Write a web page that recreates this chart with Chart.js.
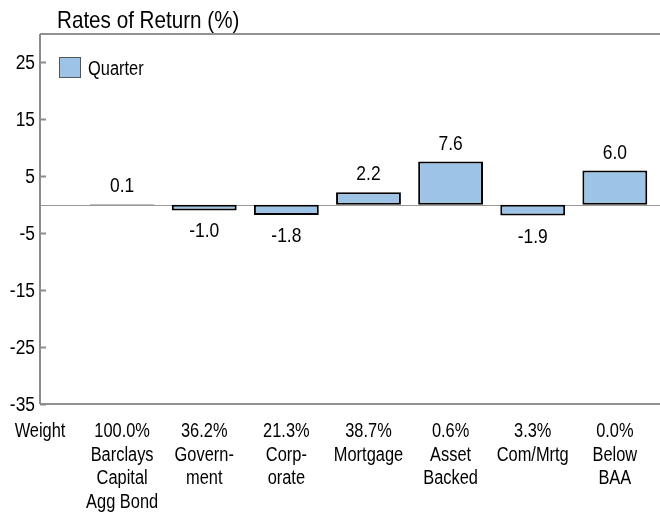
<!DOCTYPE html>
<html lang="en">
<head>
<meta charset="UTF-8">
<title>Rates of Return (%)</title>
<style>
    body { margin: 0; background: #fff; }
    #wrap { width: 660px; height: 512px; }
</style>
</head>
<body>
<div id="wrap">
    <canvas id="returnChart" width="660" height="512"></canvas>
</div>
<script src="https://cdn.jsdelivr.net/npm/chart.js"></script>
<script>
    // data
    const categories = [
        ['Barclays', 'Capital', 'Agg Bond'],
        ['Govern-', 'ment'],
        ['Corp-', 'orate'],
        ['Mortgage'],
        ['Asset', 'Backed'],
        ['Com/Mrtg'],
        ['Below', 'BAA']
    ];
    const weights = ['100.0%', '36.2%', '21.3%', '38.7%', '0.6%', '3.3%', '0.0%'];
    const quarterReturns = [0.1, -1.0, -1.8, 2.2, 7.6, -1.9, 6.0];
    const yTicks = [-35, -25, -15, -5, 5, 15, 25];
    const xTicks = [0, 1, 2, 3, 4, 5, 6, 7];

    // no narrow font installed, so squeeze Liberation Sans sideways
    const FONT = '"Liberation Sans", Arial, sans-serif';
    const barColor = '#9dc3e6';

    function narrowText(ctx, text, x, y, size, squeeze, align) {
        ctx.save();
        ctx.font = size + 'px ' + FONT;
        ctx.textAlign = align;
        ctx.textBaseline = 'alphabetic';
        ctx.translate(x, y);
        ctx.scale(squeeze, 1);
        ctx.fillText(text, 0, 0);
        ctx.restore();
    }

    const decorations = {
        id: 'decorations',
        beforeDatasetsDraw(chart) {
            const ctx = chart.ctx;
            const area = chart.chartArea;
            const x = chart.scales.x;
            const y = chart.scales.y;
            ctx.save();

            // zero line
            ctx.strokeStyle = '#999';
            ctx.lineWidth = 1;
            let zy = Math.round(y.getPixelForValue(0)) + 0.5;
            ctx.beginPath();
            ctx.moveTo(area.left, zy);
            ctx.lineTo(chart.width, zy);
            ctx.stroke();

            // top and bottom rules
            ctx.strokeStyle = '#6e6e6e';
            ctx.lineWidth = 1.5;
            ctx.beginPath();
            ctx.moveTo(area.left, area.top);
            ctx.lineTo(chart.width, area.top);
            ctx.moveTo(area.left, area.bottom);
            ctx.lineTo(chart.width, area.bottom);
            ctx.stroke();

            // y axis with inward tick marks
            ctx.strokeStyle = '#8c8c8c';
            ctx.lineWidth = 2;
            ctx.beginPath();
            ctx.moveTo(area.left, area.top);
            ctx.lineTo(area.left, area.bottom);
            y.ticks.forEach(function (t) {
                let py = Math.round(y.getPixelForValue(t.value)) + 0.5;
                ctx.moveTo(area.left, py);
                ctx.lineTo(area.left + 6, py);
            });
            ctx.stroke();

            ctx.fillStyle = '#000';

            // y tick labels
            y.ticks.forEach(function (t) {
                let py = y.getPixelForValue(t.value);
                narrowText(ctx, String(t.value), area.left - 5, py + 7, 20, 0.87, 'right');
            });

            // x tick labels: weight on the first line, name below
            x.ticks.forEach(function (t) {
                let px = x.getPixelForValue(t.value);
                let lines = t.value === 0 ? ['Weight'] : [weights[t.value - 1]].concat(categories[t.value - 1]);
                lines.forEach(function (line, k) {
                    narrowText(ctx, line, px, 437 + k * 23.5, 20, 0.82, 'center');
                });
            });

            // title
            narrowText(ctx, 'Rates of Return (%)', 57, 28, 24, 0.86, 'left');

            // legend inside the plot
            let ds = chart.data.datasets[0];
            ctx.fillStyle = ds.backgroundColor;
            ctx.fillRect(59, 57, 21, 20);
            ctx.strokeStyle = '#555';
            ctx.lineWidth = 1;
            ctx.strokeRect(59.5, 57.5, 21, 20);
            ctx.fillStyle = '#000';
            narrowText(ctx, ds.label, 88, 75, 20, 0.82, 'left');

            ctx.restore();
        },
        afterDatasetsDraw(chart) {
            const ctx = chart.ctx;
            const meta = chart.getDatasetMeta(0);
            ctx.save();
            ctx.fillStyle = '#000';
            meta.data.forEach(function (bar, i) {
                let v = quarterReturns[i];
                let ty = v >= 0 ? bar.y - 12 : bar.y + 27;
                narrowText(ctx, v.toFixed(1), bar.x, ty, 21, 0.83, 'center');
            });
            ctx.restore();
        }
    };

    new Chart(document.getElementById('returnChart'), {
        type: 'bar',
        data: {
            datasets: [{
                label: 'Quarter',
                data: quarterReturns.map(function (v, i) { return { x: i + 1, y: v }; }),
                backgroundColor: barColor,
                borderColor: '#000',
                borderWidth: 2,
                borderSkipped: false,
                categoryPercentage: 1,
                barPercentage: 0.79
            }]
        },
        options: {
            responsive: false,
            animation: false,
            layout: { padding: { top: 34, right: 0, left: 0, bottom: 0 } },
            plugins: {
                legend: { display: false },
                title: { display: false },
                tooltip: { enabled: false }
            },
            scales: {
                x: {
                    type: 'linear',
                    offset: false,
                    min: 0,
                    max: 7.55,
                    grid: { display: false },
                    border: { display: false },
                    ticks: { display: false },
                    afterBuildTicks: function (scale) {
                        scale.ticks = xTicks.map(function (v) { return { value: v }; });
                    },
                    afterFit: function (scale) { scale.height = 108; }
                },
                y: {
                    min: -35,
                    max: 30,
                    grid: { display: false },
                    border: { display: false },
                    ticks: { display: false },
                    afterBuildTicks: function (scale) {
                        scale.ticks = yTicks.map(function (v) { return { value: v }; });
                    },
                    afterFit: function (scale) { scale.width = 40; }
                }
            }
        },
        plugins: [decorations]
    });
</script>
</body>
</html>
